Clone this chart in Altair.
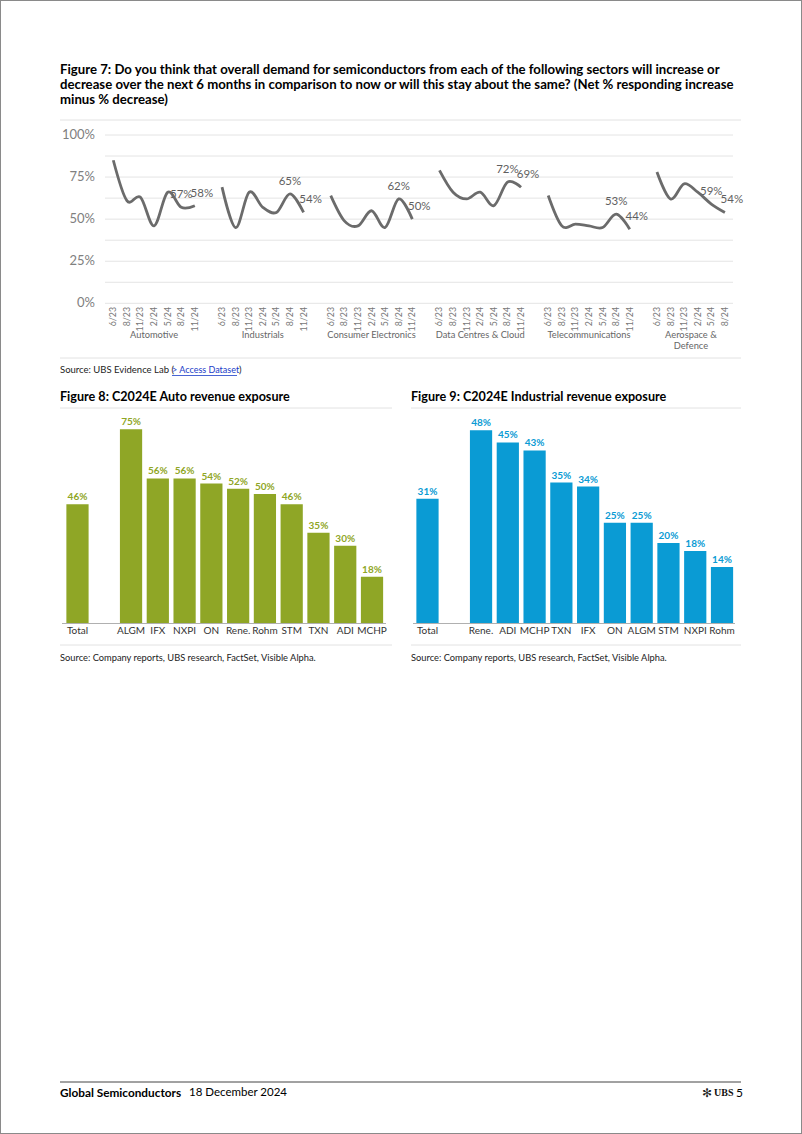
import altair as alt
import pandas as pd

FONT = "Lato"

# ---------------- Figure 7 data ----------------
sectors = ["Automotive", "Industrials", "Consumer Electronics",
           "Data Centres & Cloud", "Telecommunications", "Aerospace & Defence"]
sector_labels = ["Automotive", "Industrials", "Consumer Electronics",
                 "Data Centres & Cloud", "Telecommunications", "Aerospace &\nDefence"]
survey_dates = ["6/23", "8/23", "11/23", "2/24", "5/24", "8/24", "11/24"]
automotive = [85, 61, 63, 46, 66, 57, 58]
industrials = [69, 45, 66, 57, 54, 65, 54]
consumer_electronics = [64, 49, 46, 55, 45, 62, 50]
data_centres = [79, 66, 62, 66, 58, 72, 69]
telecoms = [64, 46, 47, 46, 45, 53, 44]
aerospace = [78, 62, 71, 66, 59, 54]
grid_ticks = [0, 12.5, 25, 37.5, 50, 62.5, 75, 87.5, 100]
y_label_ticks = [0, 25, 50, 75, 100]

# ---------------- Figure 8 / 9 data ----------------
auto_names = ["Total", "ALGM", "IFX", "NXPI", "ON", "Rene.", "Rohm", "STM", "TXN", "ADI", "MCHP"]
auto_values = [46, 75, 56, 56, 54, 52, 50, 46, 35, 30, 18]
ind_names = ["Total", "Rene.", "ADI", "MCHP", "TXN", "IFX", "ON", "ALGM", "STM", "NXPI", "Rohm"]
ind_values = [31, 48, 45, 43, 35, 34, 25, 25, 20, 18, 14]

GREEN = "#8fa626"
BLUE = "#0a9bd4"

# ---------------- tables built from the lists ----------------
series = [automotive, industrials, consumer_electronics, data_centres, telecoms, aerospace]
rows = []
for g, (name, vals) in enumerate(zip(sectors, series)):
    for i, v in enumerate(vals):
        rows.append(dict(sector=name, date=survey_dates[i], slot=g * 8 + i,
                         value=v, label=f"{v}%", pos=len(vals) - 1 - i))
line_df = pd.DataFrame(rows)
group_df = (line_df.groupby("sector", sort=False)["slot"].mean().reset_index())
group_df["text"] = sector_labels
n_slots = 8 * len(sectors) - 2

dummy = pd.DataFrame({"a": [0]})

xs7 = alt.Scale(domain=[-0.5, n_slots - 0.5], range=[106.5, 731.7], nice=False, zero=False)
ys7 = alt.Scale(domain=[0, 100], range=[303.3, 135.0], nice=False)


def txt(text, x, y, size=9, weight="normal", color="#333333", align="left", font=FONT):
    return alt.Chart(dummy).mark_text(
        text=text, fontSize=size, fontWeight=weight, color=color, align=align,
        baseline="middle", font=font
    ).encode(x=alt.value(x), y=alt.value(y))


def hline(x1, x2, y, color="#e2e2e2", width=1):
    return alt.Chart(dummy).mark_rule(color=color, strokeWidth=width).encode(
        x=alt.value(x1), x2=alt.value(x2), y=alt.value(y))


layers = []

# ---- Figure 7 header ----
title7 = [
    "Figure 7: Do you think that overall demand for semiconductors from each of the following sectors will increase or",
    "decrease over the next 6 months in comparison to now or will this stay about the same? (Net % responding increase",
    "minus % decrease)",
]
for k, line in enumerate(title7):
    layers.append(txt(line, 60, 70 + 15 * k, size=13.2, weight="bold", color="#000000"))
layers.append(hline(60, 741, 120))

# ---- Figure 7 chart ----
grid = alt.Chart(pd.DataFrame({"t": grid_ticks})).mark_rule(color="#e4e4e4", strokeWidth=1).encode(
    y=alt.Y("t:Q", scale=ys7, axis=None), x=alt.value(105), x2=alt.value(733))
layers.append(grid)

ylab_df = pd.DataFrame({"t": y_label_ticks, "lab": [f"{t}%" for t in y_label_ticks]})
layers.append(alt.Chart(ylab_df).mark_text(align="right", baseline="middle", fontSize=13,
                                           color="#808080", font=FONT).encode(
    y=alt.Y("t:Q", scale=ys7, axis=None), x=alt.value(95), text="lab:N"))

layers.append(alt.Chart(line_df).mark_text(angle=270, align="right", baseline="middle", fontSize=8.8,
                                           color="#777777", font=FONT).encode(
    x=alt.X("slot:Q", scale=xs7, axis=None), y=alt.value(307), text="date:N"))

layers.append(alt.Chart(group_df).mark_text(baseline="top", fontSize=9.3, lineHeight=10.5, lineBreak="\n",
                                            color="#666666", font=FONT).encode(
    x=alt.X("slot:Q", scale=xs7, axis=None), y=alt.value(331), text="text:N"))

# value labels (drawn under the lines, as in the original)
prev_df = line_df[line_df["pos"] == 1]
last_df = line_df[line_df["pos"] == 0]
layers.append(alt.Chart(prev_df).mark_text(fontSize=11.5, color="#5f5f5f", dy=-12, baseline="middle",
                                           font=FONT).encode(
    x=alt.X("slot:Q", scale=xs7, axis=None), y=alt.Y("value:Q", scale=ys7, axis=None), text="label:N"))
layers.append(alt.Chart(last_df).mark_text(fontSize=11.5, color="#5f5f5f", dy=-12, dx=7, baseline="middle",
                                           font=FONT).encode(
    x=alt.X("slot:Q", scale=xs7, axis=None), y=alt.Y("value:Q", scale=ys7, axis=None), text="label:N"))

layers.append(alt.Chart(line_df).mark_line(interpolate="cardinal", color="#6b6b6b", strokeWidth=2.8).encode(
    x=alt.X("slot:Q", scale=xs7, axis=None), y=alt.Y("value:Q", scale=ys7, axis=None),
    detail="sector:N", order="slot:Q"))

layers.append(hline(60, 741, 358))
layers.append(txt("Source: UBS Evidence Lab (", 60, 370, size=9.5, color="#222222"))
layers.append(txt("> Access Dataset", 172, 370, size=9, color="#1a3cc8"))
layers.append(hline(172, 237, 375.5, color="#1a3cc8", width=0.8))
layers.append(txt(")", 239, 370, size=9.5, color="#222222"))


# ---- Figures 8 and 9 ----
def bar_panel(names, values, color, x_range, y_top, left, right, title):
    df = pd.DataFrame({"name": names, "v": values, "label": [f"{v}%" for v in values]})
    domain = [names[0], "gap"] + names[1:]
    xs = alt.Scale(domain=domain, range=x_range, paddingInner=0.17, paddingOuter=0.085)
    ys = alt.Scale(domain=[0, 100], range=[623.3, y_top], nice=False)
    out = [
        txt(title, left, 397, size=12.6, weight="bold", color="#000000"),
        hline(left, right, 408),
        alt.Chart(df).mark_bar(color=color).encode(
            x=alt.X("name:N", scale=xs, axis=None, sort=domain),
            y=alt.Y("v:Q", scale=ys, axis=None)),
        alt.Chart(df).mark_text(fontSize=10, fontWeight="bold", color=color, dy=-7,
                                baseline="middle", font=FONT).encode(
            x=alt.X("name:N", scale=xs, axis=None, sort=domain),
            y=alt.Y("v:Q", scale=ys, axis=None), text="label:N"),
        alt.Chart(df).mark_text(fontSize=10, color="#333333", baseline="middle", font=FONT).encode(
            x=alt.X("name:N", scale=xs, axis=None, sort=domain),
            y=alt.value(631), text="name:N"),
        hline(left + 2, right - 6, 623.5, color="#b0b0b0", width=1),
        hline(left, right, 645),
        txt("Source: Company reports, UBS research, FactSet, Visible Alpha.", left, 658, size=9.3,
            color="#222222"),
    ]
    return out


layers += bar_panel(auto_names, auto_values, GREEN, [64.1, 385.4], 364.6, 60, 392,
                    "Figure 8: C2024E Auto revenue exposure")
layers += bar_panel(ind_names, ind_values, BLUE, [414.1, 735.4], 221.3, 411, 741,
                    "Figure 9: C2024E Industrial revenue exposure")

# ---- footer ----
layers.append(hline(60, 741, 1082, color="#444444", width=1))
layers.append(txt("Global Semiconductors", 60, 1093, size=11.8, weight="bold", color="#000000"))
layers.append(txt("18 December 2024", 189, 1093, size=11.5, color="#000000"))
layers.append(txt("\u273b", 702, 1093, size=12, color="#222222", font="DejaVu Sans"))
layers.append(txt("UBS", 714, 1093, size=10, weight="bold", color="#111111", font="Liberation Serif"))
layers.append(txt("5", 736, 1093, size=12, color="#000000"))

chart = alt.layer(*layers).resolve_scale(x="independent", y="independent").properties(
    width=802, height=1134, padding=0, autosize=alt.AutoSizeParams(type="none"),
    background="white",
).configure_view(stroke="#8a8a8a", strokeWidth=2)

chart.save("out.html", embed_options={"renderer": "svg", "actions": False})
